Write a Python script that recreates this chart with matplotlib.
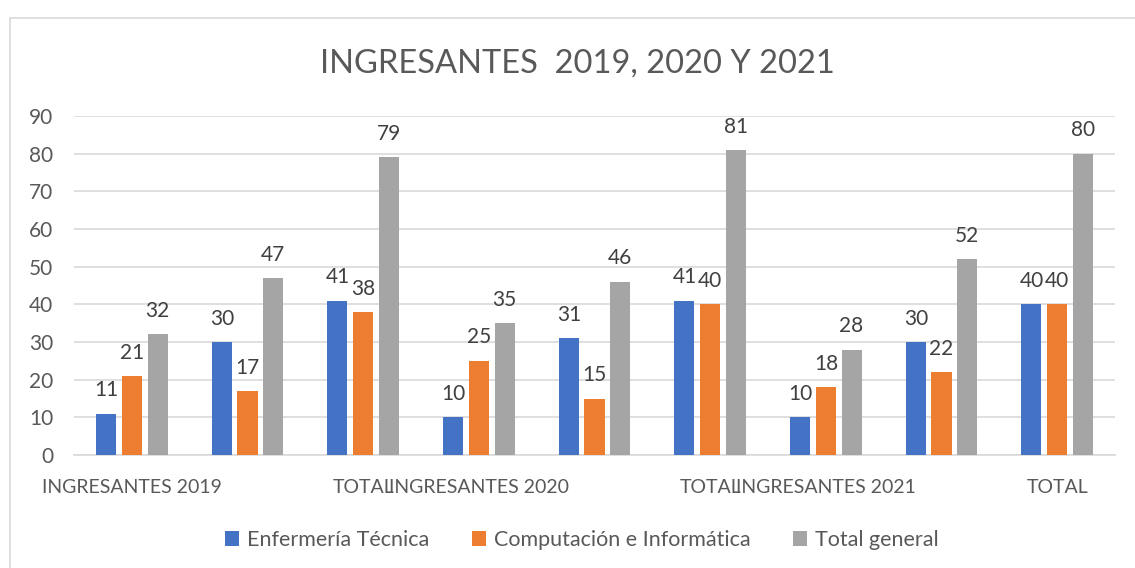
import matplotlib
matplotlib.use("Agg")
import matplotlib.pyplot as plt
import numpy as np
from matplotlib.patches import Rectangle

categories = ["INGRESANTES 2019", "", "TOTAL", "INGRESANTES 2020", "", "TOTAL",
              "INGRESANTES 2021", "", "TOTAL"]
series_names = ["Enfermería Técnica", "Computación e Informática", "Total general"]
enfermeria = [11, 30, 41, 10, 31, 41, 10, 30, 40]
computacion = [21, 17, 38, 25, 15, 40, 18, 22, 40]
total_general = [32, 47, 79, 35, 46, 81, 28, 52, 80]
colors = ["#4472C4", "#ED7D31", "#A5A5A5"]
title = "INGRESANTES  2019, 2020 Y 2021"
yticks = list(range(0, 100, 10))

plt.rcParams['font.family'] = ['Lato', 'DejaVu Sans']
txt = "#595959"
W, H = 1135, 568
fig = plt.figure(figsize=(W / 100, H / 100), dpi=100)
fig.patch.set_facecolor("white")

# outer chart border
fig.add_artist(Rectangle((9.5 / W, -0.1), 1.2, 1 - 17.5 / H + 0.1, transform=fig.transFigure,
                         fill=False, edgecolor="#D9D9D9", linewidth=1.2))

ax = fig.add_axes([74 / W, (H - 455) / H, (1115 - 74) / W, (455 - 116) / H])
x = np.arange(len(categories))
width = 0.173
pitch = 0.222
all_series = [enfermeria, computacion, total_general]
for i, (vals, name, c) in enumerate(zip(all_series, series_names, colors)):
    pos = x + (i - 1) * pitch
    bars = ax.bar(pos, vals, width=width, color=c, label=name, zorder=3)
    for p, v in zip(pos, vals):
        ax.annotate(str(v), (p, v), xytext=(0, 12.5), textcoords="offset points",
                    ha="center", va="baseline", fontsize=15, color="#404040")

ax.set_xlim(-0.5, len(categories) - 0.5)
ax.set_ylim(0, 90)
ax.set_yticks(yticks)
ax.set_xticks(x)
ax.set_xticklabels(categories)
ax.tick_params(axis="both", length=0, labelsize=15, labelcolor=txt)
ax.tick_params(axis="x", labelsize=14.0)
ax.tick_params(axis="y", pad=15)
ax.tick_params(axis="x", pad=17)
ax.grid(axis="y", color="#D9D9D9", linewidth=1.2, zorder=0)
for s in ["top", "right", "left"]:
    ax.spines[s].set_visible(False)
ax.spines["bottom"].set_color("#D9D9D9")
ax.spines["bottom"].set_linewidth(1.2)

fig.text(577 / W, 1 - 64 / H, title, ha="center", va="center", fontsize=23.5, color=txt)

leg = fig.legend(loc="center", bbox_to_anchor=(582 / W, 1 - 540 / H), ncol=3, frameon=False,
                 fontsize=15.5, handlelength=0.65, handleheight=0.65, handletextpad=0.35,
                 columnspacing=2.0, labelcolor=txt)

fig.savefig("out.png", dpi=100)
